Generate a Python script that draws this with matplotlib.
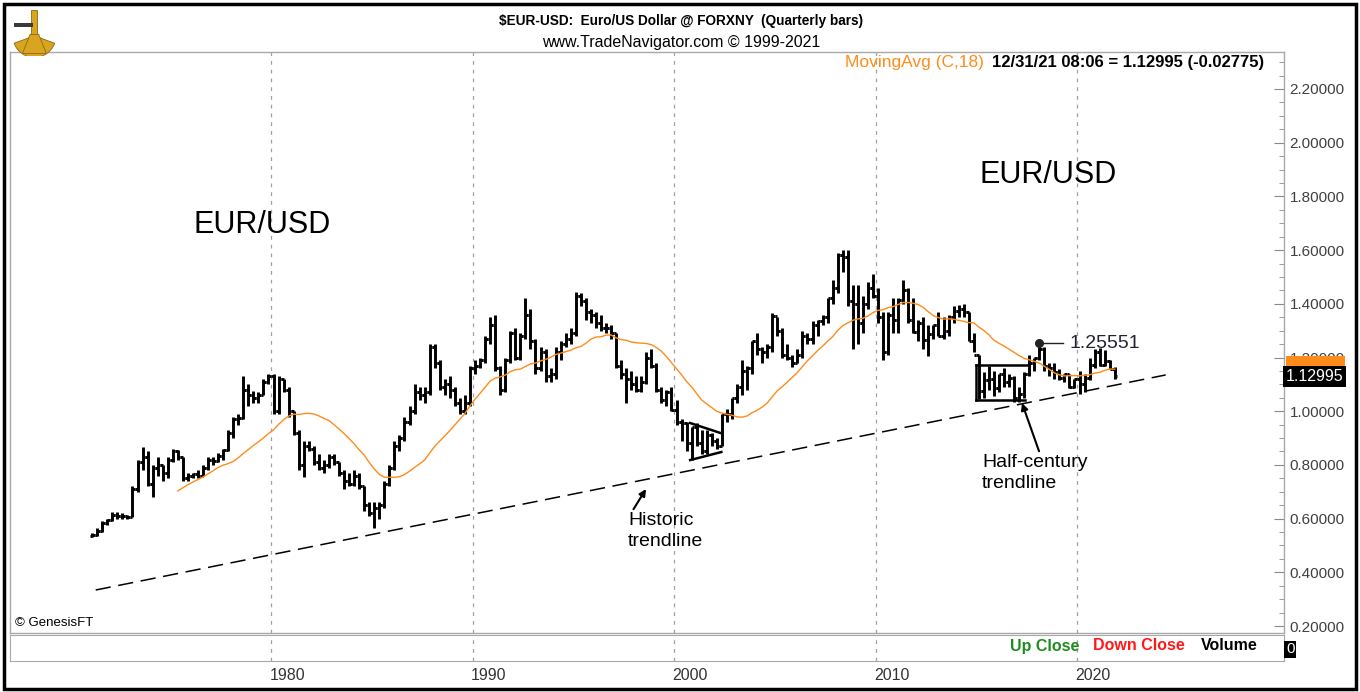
import matplotlib
matplotlib.use("Agg")
import numpy as np
import pandas as pd
import matplotlib.pyplot as plt
import matplotlib.transforms as mtransforms
from matplotlib.patches import Rectangle, Wedge, Polygon
from matplotlib.ticker import MultipleLocator, FormatStrFormatter

plt.rcParams['font.family'] = ['Liberation Sans', 'DejaVu Sans']

# quarterly bars, 1971 Q1 .. 2021 Q4 (one row per year)
start_year = 1971
highs = [
    0.545, 0.565, 0.59, 0.60,   0.625, 0.625, 0.62, 0.615,  0.72, 0.82, 0.865, 0.85,
    0.80, 0.83, 0.80, 0.83,     0.86, 0.855, 0.83, 0.77,    0.77, 0.78, 0.80, 0.83,
    0.83, 0.845, 0.86, 0.93,    0.98, 0.99, 1.13, 1.10,     1.075, 1.07, 1.12, 1.14,
    1.14, 1.13, 1.12, 1.09,     1.00, 0.93, 0.89, 0.89,     0.87, 0.84, 0.82, 0.84,
    0.84, 0.81, 0.78, 0.77,     0.78, 0.77, 0.72, 0.66,     0.66, 0.66, 0.74, 0.80,
    0.89, 0.91, 0.98, 1.02,     1.10, 1.09, 1.09, 1.25,     1.25, 1.19, 1.12, 1.13,
    1.09, 1.05, 1.06, 1.17,     1.19, 1.20, 1.28, 1.35,     1.36, 1.17, 1.20, 1.30,
    1.31, 1.29, 1.42, 1.38,     1.27, 1.24, 1.23, 1.16,     1.24, 1.26, 1.29, 1.31,
    1.445, 1.44, 1.42, 1.38,    1.37, 1.36, 1.33, 1.32,     1.29, 1.19, 1.16, 1.15,
    1.13, 1.13, 1.22, 1.23,     1.18, 1.09, 1.08, 1.09,     1.04, 0.97, 0.96, 0.94,
    0.955, 0.93, 0.93, 0.92,    0.90, 0.99, 1.01, 1.05,     1.10, 1.19, 1.17, 1.26,
    1.29, 1.24, 1.25, 1.367,    1.35, 1.31, 1.25, 1.21,     1.23, 1.30, 1.29, 1.335,
    1.34, 1.36, 1.42, 1.49,     1.59, 1.60, 1.60, 1.47,     1.47, 1.43, 1.48, 1.51,
    1.46, 1.37, 1.37, 1.42,     1.42, 1.49, 1.46, 1.42,     1.34, 1.35, 1.32, 1.32,
    1.37, 1.35, 1.36, 1.39,     1.395, 1.40, 1.37, 1.29,    1.21, 1.145, 1.17, 1.15,
    1.14, 1.16, 1.14, 1.13,     1.09, 1.145, 1.21, 1.20,    1.2555, 1.24, 1.18, 1.18,
    1.157, 1.14, 1.14, 1.12,    1.149, 1.14, 1.20, 1.23,    1.235, 1.227, 1.19, 1.163,
]
lows = [
    0.53, 0.535, 0.55, 0.575,   0.59, 0.60, 0.60, 0.60,     0.605, 0.70, 0.78, 0.72,
    0.68, 0.76, 0.74, 0.75,     0.81, 0.82, 0.74, 0.74,     0.75, 0.75, 0.76, 0.78,
    0.80, 0.81, 0.82, 0.85,     0.90, 0.95, 0.97, 1.02,     1.03, 1.03, 1.06, 1.10,
    0.99, 0.99, 1.07, 0.98,     0.91, 0.78, 0.755, 0.85,    0.80, 0.78, 0.77, 0.79,
    0.80, 0.76, 0.71, 0.72,     0.72, 0.71, 0.63, 0.61,     0.565, 0.60, 0.64, 0.72,
    0.78, 0.85, 0.89, 0.95,     0.99, 1.04, 1.03, 1.06,     1.16, 1.08, 1.06, 1.05,
    1.02, 0.99, 0.99, 1.02,     1.14, 1.16, 1.18, 1.25,     1.15, 1.06, 1.07, 1.18,
    1.19, 1.19, 1.27, 1.23,     1.14, 1.15, 1.11, 1.11,     1.12, 1.19, 1.24, 1.25,
    1.28, 1.39, 1.34, 1.33,     1.31, 1.30, 1.29, 1.27,     1.16, 1.12, 1.03, 1.08,
    1.07, 1.07, 1.10, 1.16,     1.07, 1.03, 1.02, 1.00,     0.95, 0.89, 0.85, 0.82,
    0.87, 0.84, 0.84, 0.87,     0.86, 0.87, 0.96, 0.97,     1.03, 1.06, 1.08, 1.14,
    1.21, 1.18, 1.20, 1.22,     1.28, 1.20, 1.19, 1.165,    1.18, 1.20, 1.25, 1.25,
    1.28, 1.32, 1.33, 1.40,     1.44, 1.52, 1.39, 1.23,     1.25, 1.29, 1.38, 1.42,
    1.33, 1.19, 1.21, 1.29,     1.29, 1.40, 1.33, 1.29,     1.26, 1.23, 1.205, 1.27,
    1.28, 1.27, 1.28, 1.33,     1.35, 1.35, 1.26, 1.22,     1.045, 1.05, 1.08, 1.055,
    1.07, 1.09, 1.09, 1.035,    1.034, 1.05, 1.13, 1.15,    1.19, 1.15, 1.13, 1.12,
    1.117, 1.11, 1.088, 1.088,  1.064, 1.073, 1.118, 1.16,  1.17, 1.17, 1.156, 1.119,
]
closes = [
    0.54, 0.555, 0.585, 0.595,  0.615, 0.61, 0.61, 0.607,   0.71, 0.81, 0.83, 0.73,
    0.79, 0.80, 0.77, 0.82,     0.85, 0.83, 0.75, 0.76,     0.765, 0.76, 0.79, 0.82,
    0.815, 0.835, 0.855, 0.92,  0.97, 0.975, 1.08, 1.06,    1.05, 1.06, 1.11, 1.13,
    1.00, 1.12, 1.08, 1.00,     0.92, 0.80, 0.87, 0.86,     0.81, 0.79, 0.80, 0.83,
    0.81, 0.77, 0.74, 0.73,     0.76, 0.72, 0.65, 0.62,     0.64, 0.65, 0.73, 0.79,
    0.87, 0.90, 0.96, 1.00,     1.07, 1.06, 1.07, 1.24,     1.18, 1.09, 1.10, 1.08,
    1.03, 1.00, 1.03, 1.16,     1.17, 1.19, 1.27, 1.32,     1.16, 1.08, 1.19, 1.29,
    1.20, 1.28, 1.36, 1.26,     1.16, 1.22, 1.13, 1.14,     1.22, 1.25, 1.27, 1.29,
    1.43, 1.41, 1.37, 1.36,     1.33, 1.31, 1.31, 1.29,     1.17, 1.14, 1.12, 1.10,
    1.08, 1.11, 1.20, 1.17,     1.08, 1.04, 1.07, 1.005,    0.96, 0.955, 0.88, 0.94,
    0.88, 0.85, 0.91, 0.89,     0.87, 0.99, 0.99, 1.05,     1.09, 1.15, 1.16, 1.26,
    1.23, 1.22, 1.24, 1.355,    1.30, 1.21, 1.20, 1.18,     1.21, 1.28, 1.27, 1.32,
    1.335, 1.35, 1.42, 1.46,    1.58, 1.575, 1.41, 1.40,    1.33, 1.40, 1.46, 1.43,
    1.35, 1.22, 1.36, 1.34,     1.415, 1.45, 1.34, 1.295,   1.33, 1.266, 1.286, 1.32,
    1.28, 1.30, 1.35, 1.375,    1.38, 1.37, 1.26, 1.21,     1.075, 1.115, 1.12, 1.085,
    1.138, 1.11, 1.124, 1.05,   1.065, 1.14, 1.18, 1.20,    1.23, 1.168, 1.16, 1.146,
    1.122, 1.137, 1.09, 1.12,   1.103, 1.123, 1.172, 1.222, 1.173, 1.186, 1.158, 1.12995,
]
first_open = 0.535
ma_period = 18

decade_years = [1980, 1990, 2000, 2010, 2020]
price_ticks = [0.2, 0.4, 0.6, 0.8, 1.0, 1.2, 1.4, 1.6, 1.8, 2.0, 2.2]

# hand-drawn studies (year, price)
historic_trend_x = [1971.3, 2024.4]
historic_trend_y = [0.334, 1.135]
box_x = [2015.0, 2017.6]
box_y = [1.042, 1.172]
wedge_top_x, wedge_top_y = [2000.8, 2002.3], [0.956, 0.919]
wedge_bot_x, wedge_bot_y = [2000.8, 2002.35], [0.818, 0.848]
peak_2018 = (2018.1, 1.25551)

W, H = 1360, 692
fig = plt.figure(figsize=(W / 100, H / 100), dpi=100)


def fx(px):
    return px / W


def fy(py):
    return 1 - py / H


# pixel -> data helpers for the price panel (used for text placement)
def X(px):
    return 1980 + (px - 271) / 20.15


def Y(py):
    return 2.2 - (py - 89) / 268.5


XLIM = (X(10), X(1284))
YLIM = (Y(633), Y(52))

ax = fig.add_axes([fx(10), fy(633), fx(1284) - fx(10), fy(52) - fy(633)])
ax.set_xlim(*XLIM)
ax.set_ylim(*YLIM)

qx = np.array([start_year + i * 0.25 + 0.125 for i in range(len(closes))])
opens = [first_open] + closes[:-1]

bar_kw = dict(color="black", lw=2.1)
ax.vlines(qx, lows, highs, **bar_kw)
ax.hlines(opens, qx - 0.125, qx, **bar_kw)
ax.hlines(closes, qx, qx + 0.125, **bar_kw)

ma = pd.Series(closes).rolling(ma_period).mean()
ax.plot(qx, ma, color="#FF8C1A", lw=1.0, zorder=3)

for yr in decade_years:
    ax.axvline(yr, color="#a0a0a0", lw=0.9, ls=(0, (3, 4)), zorder=0)

# trend studies
ax.plot(historic_trend_x, historic_trend_y, color="black", lw=1.1, dashes=(10, 5))
ax.plot([box_x[0], box_x[1]], [box_y[1], box_y[1]], color="black", lw=1.8)
ax.plot([box_x[0], box_x[1] - 0.2], [box_y[0], box_y[0]], color="black", lw=1.8)
ax.plot([box_x[0], box_x[0]], box_y, color="black", lw=1.8)
ax.plot(wedge_top_x, wedge_top_y, color="black", lw=1.8)
ax.plot(wedge_bot_x, wedge_bot_y, color="black", lw=1.8)

# 2018 peak label
ax.plot(*peak_2018, "o", color="#222222", ms=5.5)
ax.plot([peak_2018[0], X(1063)], [peak_2018[1]] * 2, color="#222222", lw=1.0)
ax.text(X(1070), peak_2018[1] - 0.005, f"{peak_2018[1]:.5f}", fontsize=14,
        color="#222233", va="center", ha="left")

# big labels
ax.text(X(262), Y(225), "EUR/USD", fontsize=22, ha="center", va="center")
ax.text(X(1048), Y(175), "EUR/USD", fontsize=22, ha="center", va="center")

ax.annotate("Historic\ntrendline", xy=(X(646), Y(489)), xytext=(X(628), Y(512)),
            fontsize=14, ha="left", va="top", linespacing=1.3,
            arrowprops=dict(arrowstyle="-|>", color="black", lw=1.5,
                            mutation_scale=10, shrinkA=0, shrinkB=0,
                            relpos=(0.05, 1.0)))
ax.annotate("Half-century\ntrendline", xy=(X(1022), Y(403)), xytext=(X(982), Y(454)),
            fontsize=14, ha="left", va="top", linespacing=1.3,
            arrowprops=dict(arrowstyle="-|>", color="black", lw=1.5,
                            mutation_scale=10, shrinkA=0, shrinkB=0,
                            relpos=(0.55, 1.0)))

ax.text(0.004, 0.017, "\u00a9 GenesisFT", transform=ax.transAxes, fontsize=9.5,
        ha="left", va="center")

# right price scale
ax.yaxis.tick_right()
ax.yaxis.set_minor_locator(MultipleLocator(0.05))
ax.yaxis.set_major_formatter(FormatStrFormatter("%.5f"))
ax.set_yticks(price_ticks)
ax.tick_params(axis="y", which="major", direction="in", length=7, color="#888888",
               labelsize=11, labelcolor="#404040", pad=4)
ax.tick_params(axis="y", which="minor", direction="in", length=3.5, color="#888888")
ax.tick_params(axis="x", bottom=False, labelbottom=False)
for side in ["top", "right", "bottom", "left"]:
    ax.spines[side].set_color("#a8a8a8")
    ax.spines[side].set_linewidth(1.0)

# last value flags (moving average flag sits behind the close flag)
flag_tr = mtransforms.blended_transform_factory(ax.transAxes, ax.transData)
ax.add_patch(Rectangle((1.0015, Y(372)), 0.046, Y(356) - Y(372), transform=flag_tr,
                       fc="#FF8C1A", ec="none", clip_on=False, zorder=5))
ax.text(1.0015, closes[-1], f"{closes[-1]:.5f}", transform=flag_tr, fontsize=11.5,
        color="white", va="center", ha="left", clip_on=False, zorder=6,
        bbox=dict(boxstyle="square,pad=0.18", fc="black", ec="none"))

# volume strip
axv = fig.add_axes([fx(10), fy(661), fx(1284) - fx(10), fy(635) - fy(661)])
axv.set_xlim(*XLIM)
axv.set_ylim(0, 1)
axv.set_xticks([])
axv.set_yticks([])
for side in ["top", "right", "bottom", "left"]:
    axv.spines[side].set_color("#a8a8a8")
vol_tr = mtransforms.blended_transform_factory(axv.transData, axv.transAxes)
for yr in decade_years:
    axv.axvline(yr, color="#a0a0a0", lw=0.9, ls=(0, (3, 4)), zorder=0)
    axv.text(yr + 0.8, -0.55, str(yr), transform=vol_tr, fontsize=11.5,
             color="#333333", ha="center", va="center")
axv.text(1.0015, 0.45, "0", transform=axv.transAxes, fontsize=11, color="white",
         va="center", ha="left", clip_on=False,
         bbox=dict(boxstyle="square,pad=0.1", fc="black", ec="none"))

fig.text(fx(1010), fy(646), "Up Close", color="#1E8C1E", fontsize=11.5,
         fontweight="bold", ha="left", va="center")
fig.text(fx(1093), fy(646), "Down Close", color="#FF1A1A", fontsize=11.5,
         fontweight="bold", ha="left", va="center")
fig.text(fx(1201), fy(646), "Volume", color="black", fontsize=11.5,
         fontweight="bold", ha="left", va="center")

# header
fig.text(fx(681), fy(21), "$EUR-USD:  Euro/US Dollar @ FORXNY  (Quarterly bars)",
         fontsize=9.8, fontweight="bold", ha="center", va="center")
fig.text(fx(681), fy(43), "www.TradeNavigator.com \u00a9 1999-2021",
         fontsize=11.5, ha="center", va="center")
fig.text(fx(984), fy(63), "MovingAvg (C,18)", color="#FF8C1A", fontsize=12.5,
         ha="right", va="center")
fig.text(fx(992), fy(63), "12/31/21 08:06 = 1.12995 (-0.02775)", fontsize=12,
         fontweight="bold", ha="left", va="center")

# logo
gold = "#D9A521"
lax = fig.add_axes([fx(8), fy(56), fx(56) - fx(8), fy(8) - fy(56)])
lax.set_xlim(0, 1)
lax.set_ylim(0, 1)
lax.axis("off")
lax.add_patch(Wedge((0.55, 0.42), 0.45, 200, 340, fc=gold, ec="#8a6a10", lw=0.6))
lax.add_patch(Rectangle((0.48, 0.2), 0.13, 0.75, fc=gold, ec="#8a6a10", lw=0.6))
lax.add_patch(Rectangle((0.12, 0.6), 0.4, 0.09, fc="#3a3a3a", ec="none"))
lax.add_patch(Polygon([[0.3, 0.05], [0.8, 0.05], [0.64, 0.45], [0.46, 0.45]],
                      fc=gold, ec="#8a6a10", lw=0.6))

# outer frame
fig.patches.append(Rectangle((fx(4), fy(689)), fx(1356) - fx(4), fy(4) - fy(689),
                             transform=fig.transFigure, fill=False,
                             ec="black", lw=2.5))

fig.savefig("out.png", dpi=100)
